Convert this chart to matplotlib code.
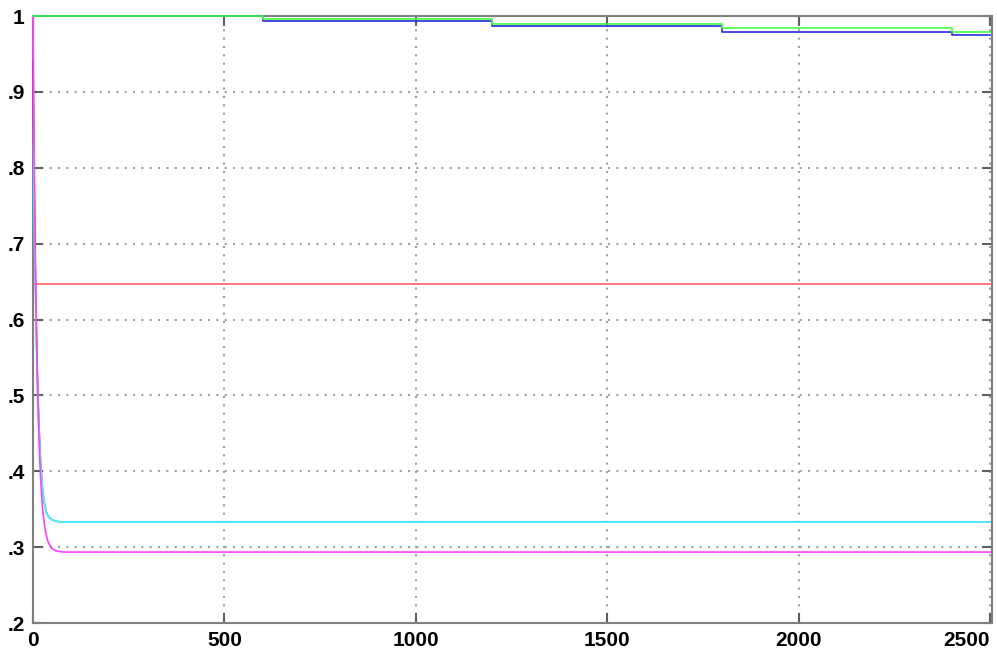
import matplotlib.pyplot as plt
from matplotlib.ticker import FuncFormatter

# --- data ---
step_t = [0, 600, 1200, 1800, 2400, 2500]
green_v = [1.0, 0.9965, 0.9895, 0.984, 0.9785, 0.9785]
blue_v = [1.0, 0.9928, 0.9868, 0.9795, 0.9752, 0.9752]

red_t = [0, 2500]
red_v = [0.647, 0.647]

decay_t = [0, 2, 4, 6, 8, 10, 13, 16, 20, 25, 30, 35, 40, 50, 60, 80, 2500]
magenta_v = [1.0, 0.87, 0.765, 0.68, 0.61, 0.553, 0.487, 0.436, 0.389, 0.351,
             0.329, 0.315, 0.306, 0.298, 0.295, 0.2935, 0.2935]
cyan_v = [0.85, 0.77, 0.70, 0.64, 0.59, 0.54, 0.49, 0.45, 0.41, 0.375,
          0.357, 0.346, 0.34, 0.336, 0.334, 0.333, 0.333]
purple_v = [0.94, 0.84, 0.75, 0.67, 0.61, 0.56, 0.50, 0.455, 0.41, 0.375,
            0.357, 0.346, 0.34, 0.336, 0.334, 0.333, 0.333]

xticks = [0, 500, 1000, 1500, 2000, 2500]
yticks = [0.2, 0.3, 0.4, 0.5, 0.6, 0.7, 0.8, 0.9, 1.0]

fig = plt.figure(figsize=(9.97, 6.56), dpi=100)
ax = fig.add_axes([0.0331, 0.0503, 0.9619, 0.9253])

lw = 1.2
ax.plot(red_t, red_v, color='#ff6060', lw=lw, zorder=3)
ax.plot(decay_t, purple_v, color='#7040a0', lw=lw, zorder=3, clip_on=False)
ax.plot(decay_t, cyan_v, color='#40ffff', lw=lw, zorder=3)
ax.plot(decay_t, magenta_v, color='#ff40ff', lw=lw, zorder=3.1, clip_on=False)
ax.plot(step_t, blue_v, color='#2a2ad8', lw=lw, drawstyle='steps-post', zorder=3, clip_on=False)
ax.plot(step_t, green_v, color='#40ff40', lw=lw, drawstyle='steps-post', zorder=3.2, clip_on=False)

ax.set_xlim(0, 2505)
ax.set_ylim(0.2, 1.0)
ax.set_xticks(xticks)
ax.set_yticks(yticks)

def yfmt(v, pos):
    if abs(v - 1) < 1e-9:
        return '1'
    return ('%.1f' % v).lstrip('0')

ax.yaxis.set_major_formatter(FuncFormatter(yfmt))
ax.grid(True, color='#a0a0a0', linestyle=(0, (1, 3)), linewidth=1.5)

ax.tick_params(direction='in', length=7, width=1.5, color='#606060',
               top=True, right=True, labelsize=15, pad=6)
for lab in ax.get_xticklabels() + ax.get_yticklabels():
    lab.set_fontweight('bold')
    lab.set_family('Liberation Sans')
ax.get_xticklabels()[-1].set_horizontalalignment('right')

for sp in ax.spines.values():
    sp.set_color('#808080')
    sp.set_linewidth(1.5)

fig.savefig('out.png', dpi=100, facecolor='white')
